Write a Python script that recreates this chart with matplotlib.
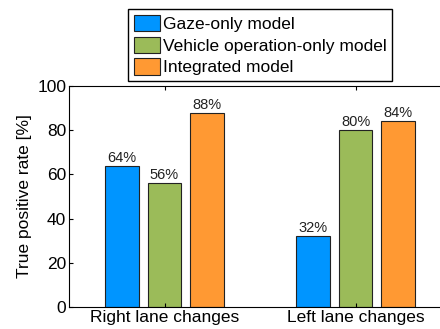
import matplotlib
matplotlib.use('Agg')
import matplotlib.pyplot as plt
import numpy as np

plt.rcParams['font.family'] = ['Liberation Sans', 'DejaVu Sans']

groups = ['Right lane changes', 'Left lane changes']
models = ['Gaze-only model', 'Vehicle operation-only model', 'Integrated model']
values = [
    [64, 32],
    [56, 80],
    [88, 84],
]
colors = ['#0095FF', '#9BBB59', '#FF9933']

fig = plt.figure(figsize=(4.4, 3.29), dpi=100)
# axes runs past the right edge, as in the cropped original
ax = fig.add_axes([69/440, 22/329, 382/440, 221/329])

x = np.arange(1, len(groups) + 1)
w = 0.175
step = 0.222
bars = []
for i, (m, v, c) in enumerate(zip(models, values, colors)):
    b = ax.bar(x + (i - 1) * step, v, w, color=c, edgecolor='#222222',
               linewidth=0.8, label=m)
    bars.append(b)
    for xi, vi in zip(x + (i - 1) * step, v):
        ax.text(xi, vi + 0.4, '%d%%' % vi, ha='center', va='bottom',
                fontsize=10.5, color='#222222')

ax.set_xlim(0.5, 2.5)
ax.set_ylim(0, 100)
ax.set_xticks(x)
ax.set_xticklabels(groups, fontsize=12.5)
ax.set_yticks([0, 20, 40, 60, 80, 100])
ax.tick_params(axis='both', direction='in', labelsize=12.5, length=3,
               top=True, right=True, pad=2)
ax.set_ylabel('True positive rate [%]', fontsize=12.5, labelpad=4)

leg = fig.legend(handles=bars, labels=models, loc='upper left',
                 bbox_to_anchor=(128/440, 1 - 9/329), fontsize=12.5,
                 fancybox=False, edgecolor='black', framealpha=1,
                 handlelength=1.5, handleheight=1.05, handletextpad=0.17,
                 labelspacing=0.28, borderpad=0.33, borderaxespad=0)
leg.get_frame().set_linewidth(1.0)

fig.savefig('out.png', dpi=100)
